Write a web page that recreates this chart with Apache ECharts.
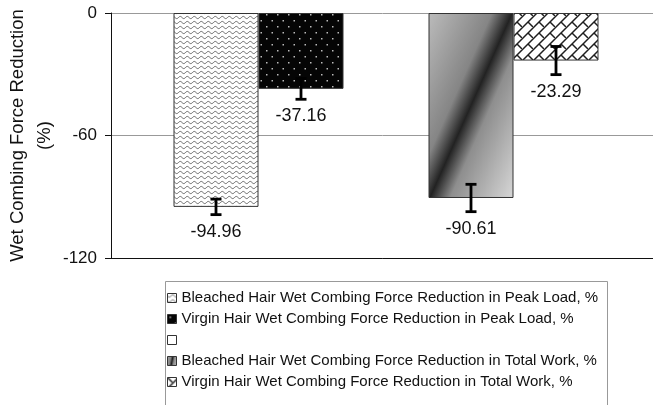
<!DOCTYPE html>
<html>
<head>
<meta charset="utf-8">
<script src="https://cdn.jsdelivr.net/npm/echarts@6/dist/echarts.min.js"></script>
<style>
html,body{margin:0;padding:0;background:#fff;}
#chart{width:653px;height:405px;}
</style>
</head>
<body>
<div id="chart"></div>
<script>
// ---- data ----
const categories = [''];
const seriesNames = [
  'Bleached Hair Wet Combing Force Reduction in Peak Load, %',
  'Virgin Hair Wet Combing Force Reduction in Peak Load, %',
  ' ',
  'Bleached Hair Wet Combing Force Reduction in Total Work, %',
  'Virgin Hair Wet Combing Force Reduction in Total Work, %'
];
const values = [-94.96, -37.16, null, -90.61, -23.29];
const errors = [3.8, 5.1, null, 6.7, 6.9];
const yTicks = [-120, -60, 0];

// ---- patterns (style only) ----
function makeCanvas(w, h) { const c = document.createElement('canvas'); c.width = w; c.height = h; return c; }
function wavePattern() {
  const c = makeCanvas(7, 5), g = c.getContext('2d');
  g.fillStyle = '#fff'; g.fillRect(0, 0, 7, 5);
  g.strokeStyle = '#555'; g.lineWidth = 0.9;
  g.beginPath();
  for (let x = -1; x <= 8; x += 0.5) {
    const y = 2.5 + 1.1 * Math.sin(x / 7 * 2 * Math.PI);
    if (x === -1) g.moveTo(x, y); else g.lineTo(x, y);
  }
  g.stroke();
  return c;
}
function dotPattern() {
  const c = makeCanvas(11, 12), g = c.getContext('2d');
  g.fillStyle = '#050505'; g.fillRect(0, 0, 11, 12);
  g.fillStyle = '#bbb';
  g.fillRect(2, 2, 1.5, 1.5);
  g.fillRect(7.5, 8, 1.5, 1.5);
  return c;
}
function brickPattern() {
  const T = 22, P = 11, Q = 22;
  const c = makeCanvas(T, T), g = c.getContext('2d');
  const img = g.createImageData(T, T);
  for (let y = 0; y < T; y++) for (let x = 0; x < T; x++) {
    const px = x + 0.5, py = y + 0.5;
    const s = px + py, d = px - py;
    const k = Math.floor(s / P);
    let r1 = ((s % P) + P) % P; const d1 = Math.min(r1, P - r1) / Math.SQRT2;
    const dd = d - (((k % 2) + 2) % 2) * Q / 2;
    let r2 = ((dd % Q) + Q) % Q; const d2 = Math.min(r2, Q - r2) / Math.SQRT2;
    const dist = Math.min(d1, d2);
    let v = 255;
    if (dist < 0.45) v = 30; else if (dist < 1.0) v = 30 + (dist - 0.45) / 0.55 * 225;
    const i = (y * T + x) * 4;
    img.data[i] = img.data[i + 1] = img.data[i + 2] = v; img.data[i + 3] = 255;
  }
  g.putImageData(img, 0, 0);
  return c;
}
const gradFill = new echarts.graphic.LinearGradient(-0.33, 0.33, 1.33, 0.67, [
  { offset: 0, color: '#bcbcbc' },
  { offset: 0.38, color: '#858585' },
  { offset: 0.5, color: '#222' },
  { offset: 0.62, color: '#8e8e8e' },
  { offset: 1, color: '#d8d8d8' }
]);
const fills = [
  { image: wavePattern(), repeat: 'repeat' },
  { image: dotPattern(), repeat: 'repeat' },
  '#ffffff',
  gradFill,
  { image: brickPattern(), repeat: 'repeat' }
];

const BAR_W = 85;
const FONT = 'Liberation Sans, Arial, sans-serif';

const barSeries = seriesNames.map((name, k) => ({
  name: name,
  type: 'bar',
  barWidth: BAR_W,
  barGap: '0%',
  data: [values[k] == null ? '-' : values[k]],
  itemStyle: { color: fills[k], borderColor: '#333', borderWidth: 1 },
  silent: true
}));

const errData = [];
values.forEach((v, k) => { if (v != null) errData.push([0, v, errors[k], k]); });

const errSeries = {
  type: 'custom',
  silent: true,
  z: 10,
  data: errData,
  encode: { x: 0, y: 1 },
  renderItem: function (params, api) {
    const v = api.value(1), e = api.value(2), k = api.value(3);
    const base = api.coord([0, v]);
    const x = base[0] + (k - 2) * BAR_W;
    const yTop = api.coord([0, v + e])[1];
    const yBot = api.coord([0, v - e])[1];
    const st = { stroke: '#000', lineWidth: 2.8 };
    return {
      type: 'group',
      children: [
        { type: 'line', shape: { x1: x, y1: yTop, x2: x, y2: yBot }, style: st },
        { type: 'line', shape: { x1: x - 5.5, y1: yTop, x2: x + 5.5, y2: yTop }, style: st },
        { type: 'line', shape: { x1: x - 5.5, y1: yBot, x2: x + 5.5, y2: yBot }, style: st },
        { type: 'text', x: x, y: yBot + 17, style: { text: v.toFixed(2), fill: '#111', font: '18px ' + FONT, align: 'center', verticalAlign: 'middle' } }
      ]
    };
  }
};

const chart = echarts.init(document.getElementById('chart'), null, { renderer: 'canvas' });
chart.setOption({
  animation: false,
  backgroundColor: '#fff',
  textStyle: { fontFamily: FONT },
  grid: { left: 111, top: 13, bottom: 147, right: -8, containLabel: false, outerBoundsMode: 'none' },
  graphic: [{
    type: 'rect',
    left: 163, top: 279,
    shape: { x: 0, y: 0, width: 442, height: 140 },
    style: { fill: 'none', stroke: '#999', lineWidth: 1 },
    silent: true, z: 0
  }],
  xAxis: {
    type: 'category',
    data: categories,
    axisLine: { onZero: false, lineStyle: { color: '#111', width: 1 } },
    axisTick: { show: false },
    axisLabel: { show: false },
    splitLine: { show: false }
  },
  yAxis: {
    type: 'value',
    min: yTicks[0], max: yTicks[yTicks.length - 1], interval: 60,
    name: 'Wet Combing Force Reduction\n(%)',
    nameLocation: 'middle',
    nameRotate: 90,
    nameGap: 53,
    nameMoveOverlap: false,
    nameTextStyle: { fontSize: 18.5, color: '#111', lineHeight: 27, fontFamily: FONT },
    axisLine: { show: true, lineStyle: { color: '#111', width: 1 } },
    axisTick: { show: true, inside: false, length: 6, lineStyle: { color: '#111' } },
    axisLabel: { fontSize: 17, color: '#111', margin: 14, fontFamily: FONT },
    splitLine: { show: true, lineStyle: { color: '#999', width: 1 } }
  },
  legend: {
    data: seriesNames,
    orient: 'vertical',
    left: 163, top: 279,
    itemWidth: 9, itemHeight: 9,
    itemGap: 1,
    icon: 'rect',
    padding: [9, 8, 4, 4],
    textStyle: { fontSize: 15, color: '#111', lineHeight: 20, fontFamily: FONT },
    itemStyle: { borderColor: '#333', borderWidth: 1 },
    selectedMode: false
  },
  series: barSeries.concat([errSeries])
});
</script>
</body>
</html>
